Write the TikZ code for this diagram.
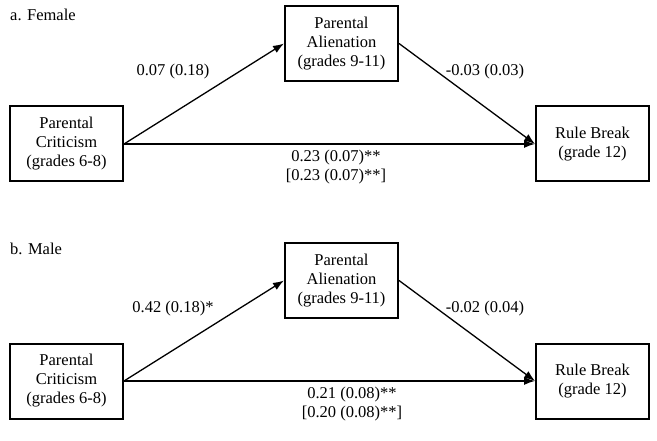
\documentclass[tikz,border=0pt]{standalone}
\usepackage{fontspec}
\setmainfont{Liberation Serif}
\usetikzlibrary{arrows.meta}
\begin{document}
\begin{tikzpicture}[x=1pt,y=-1pt,
  every node/.style={font=\fontsize{16.5}{19}\selectfont, inner sep=0pt},
  box/.style={draw, line width=2pt, minimum width=113pt, minimum height=75pt, align=center},
  lab/.style={align=center},
  arr/.style={line width=1.3pt, -{Latex[length=11pt,width=8pt]}}]
\useasboundingbox (0,0) rectangle (657,441);
% panel a
\node[anchor=west] (ta) at (10,15) {a. Female};
\node[box] (La) at (66.5,144) {Parental\\Criticism\\(grades 6-8)};
\node[box] (Ma) at (341.5,43.5) {Parental\\Alienation\\(grades 9-11)};
\node[box] (Ra) at (592.5,144) {Rule Break\\(grade 12)};
\draw[arr] (La.east) -- (Ma.west);
\draw[arr] (Ma.east) -- (Ra.west);
\draw[arr] (La.east) -- (Ra.west);
\node[lab] (a1) at (173,72) {0.07 (0.18)};
\node[lab] (a2) at (485,72) {-0.03 (0.03)};
\node[lab] (a3) at (336,167) {0.23 (0.07)**\\{[0.23 (0.07)**]}};
% panel b
\node[anchor=west] (tb) at (10,249) {b. Male};
\node[box] (Lb) at (66.5,381) {Parental\\Criticism\\(grades 6-8)};
\node[box] (Mb) at (341.5,280.5) {Parental\\Alienation\\(grades 9-11)};
\node[box] (Rb) at (592.5,381) {Rule Break\\(grade 12)};
\draw[arr] (Lb.east) -- (Mb.west);
\draw[arr] (Mb.east) -- (Rb.west);
\draw[arr] (Lb.east) -- (Rb.west);
\node[lab] (b1) at (173,309) {0.42 (0.18)*};
\node[lab] (b2) at (485,309) {-0.02 (0.04)};
\node[lab] (b3) at (352,404) {0.21 (0.08)**\\{[0.20 (0.08)**]}};
\end{tikzpicture}
\end{document}
